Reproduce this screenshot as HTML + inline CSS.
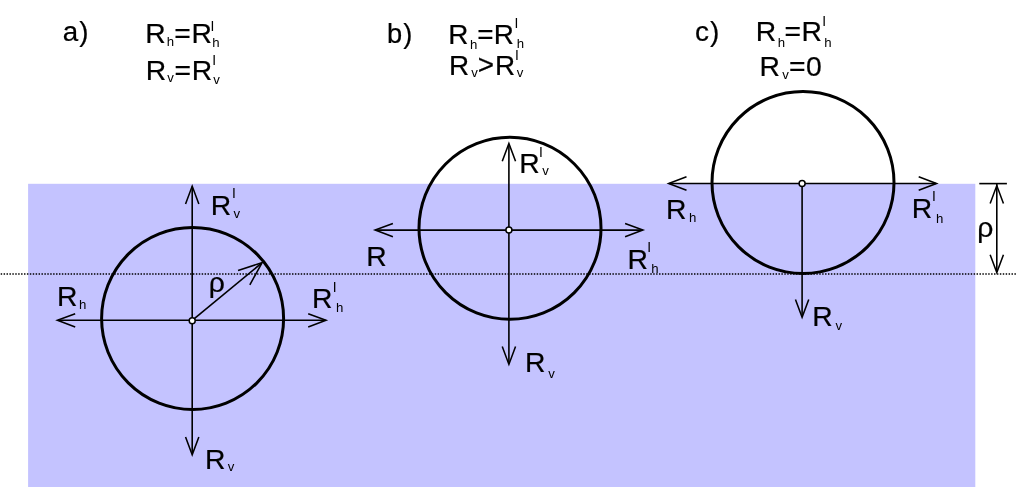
<!DOCTYPE html>
<html lang="en">
<head>
<meta charset="utf-8">
<title>Reactions on a floating cylinder</title>
<style>
html,body{margin:0;padding:0;background:#fff;}
body{width:1024px;height:502px;overflow:hidden;}
svg{display:block;will-change:transform;}
svg text{font-family:"Liberation Sans",sans-serif;fill:#000000;}
svg .m{stroke:#000000;stroke-width:0.22px;}
</style>
</head>
<body>
<svg width="1024" height="502" viewBox="0 0 1024 502">
<rect x="0" y="0" width="1024" height="502" fill="#ffffff"/>
<rect x="28.1" y="183.8" width="947.2" height="303.2" fill="#c4c3ff"/>
<line x1="0.7" y1="273.9" x2="1016" y2="273.9" stroke="#000000" stroke-width="1.45" stroke-dasharray="1.456 1.457"/>
<circle cx="192.6" cy="318.5" r="91" fill="none" stroke="#000000" stroke-width="3"/>
<circle cx="510.0" cy="228.3" r="91" fill="none" stroke="#000000" stroke-width="3"/>
<circle cx="803.0" cy="182.5" r="91" fill="none" stroke="#000000" stroke-width="3"/>
<line x1="192.2" y1="186.5" x2="192.2" y2="454" stroke="#000000" stroke-width="1.6"/>
<path d="M198.85,203.9 L192.2,186.1 L185.55,203.9" fill="none" stroke="#000000" stroke-width="1.55" stroke-linejoin="miter" stroke-miterlimit="10" stroke-linecap="butt"/>
<path d="M185.55,436.9 L192.2,454.7 L198.85,436.9" fill="none" stroke="#000000" stroke-width="1.55" stroke-linejoin="miter" stroke-miterlimit="10" stroke-linecap="butt"/>
<line x1="58" y1="320.3" x2="325.5" y2="320.3" stroke="#000000" stroke-width="1.6"/>
<path d="M75.2,313.65 L57.4,320.3 L75.2,326.95" fill="none" stroke="#000000" stroke-width="1.55" stroke-linejoin="miter" stroke-miterlimit="10" stroke-linecap="butt"/>
<path d="M308.2,326.95 L326,320.3 L308.2,313.65" fill="none" stroke="#000000" stroke-width="1.55" stroke-linejoin="miter" stroke-miterlimit="10" stroke-linecap="butt"/>
<line x1="192.2" y1="320.3" x2="261.6" y2="263.1" stroke="#000000" stroke-width="1.6"/>
<path d="M249.83,284.79 L262.14,262.68 L238.06,270.46" fill="none" stroke="#000000" stroke-width="1.55" stroke-linejoin="miter" stroke-miterlimit="10" stroke-linecap="butt"/>
<circle cx="192.2" cy="320.7" r="3" fill="#fff" stroke="#000000" stroke-width="1.5"/>
<line x1="508.9" y1="144" x2="508.9" y2="363.7" stroke="#000000" stroke-width="1.6"/>
<path d="M515.55,161.2 L508.9,143.4 L502.25,161.2" fill="none" stroke="#000000" stroke-width="1.55" stroke-linejoin="miter" stroke-miterlimit="10" stroke-linecap="butt"/>
<path d="M502.25,346.6 L508.9,364.4 L515.55,346.6" fill="none" stroke="#000000" stroke-width="1.55" stroke-linejoin="miter" stroke-miterlimit="10" stroke-linecap="butt"/>
<line x1="375.8" y1="230.1" x2="642.3" y2="230.1" stroke="#000000" stroke-width="1.6"/>
<path d="M392.9,223.45 L375.1,230.1 L392.9,236.75" fill="none" stroke="#000000" stroke-width="1.55" stroke-linejoin="miter" stroke-miterlimit="10" stroke-linecap="butt"/>
<path d="M625.1,236.75 L642.9,230.1 L625.1,223.45" fill="none" stroke="#000000" stroke-width="1.55" stroke-linejoin="miter" stroke-miterlimit="10" stroke-linecap="butt"/>
<circle cx="508.9" cy="230.1" r="3" fill="#fff" stroke="#000000" stroke-width="1.5"/>
<line x1="802.1" y1="183.5" x2="802.1" y2="316.5" stroke="#000000" stroke-width="1.6"/>
<path d="M795.45,299.4 L802.1,317.2 L808.75,299.4" fill="none" stroke="#000000" stroke-width="1.55" stroke-linejoin="miter" stroke-miterlimit="10" stroke-linecap="butt"/>
<line x1="669.3" y1="183.5" x2="936" y2="183.5" stroke="#000000" stroke-width="1.6"/>
<path d="M686.5,176.85 L668.7,183.5 L686.5,190.15" fill="none" stroke="#000000" stroke-width="1.55" stroke-linejoin="miter" stroke-miterlimit="10" stroke-linecap="butt"/>
<path d="M918.7,190.15 L936.5,183.5 L918.7,176.85" fill="none" stroke="#000000" stroke-width="1.55" stroke-linejoin="miter" stroke-miterlimit="10" stroke-linecap="butt"/>
<circle cx="802.1" cy="183.5" r="3" fill="#fff" stroke="#000000" stroke-width="1.5"/>
<line x1="979.3" y1="183.6" x2="1006.9" y2="183.6" stroke="#000000" stroke-width="1.6"/>
<line x1="996.8" y1="184" x2="996.8" y2="272" stroke="#000000" stroke-width="1.6"/>
<path d="M1003.45,203.4 L996.8,185.6 L990.15,203.4" fill="none" stroke="#000000" stroke-width="1.55" stroke-linejoin="miter" stroke-miterlimit="10" stroke-linecap="butt"/>
<path d="M990.15,254.7 L996.8,272.5 L1003.45,254.7" fill="none" stroke="#000000" stroke-width="1.55" stroke-linejoin="miter" stroke-miterlimit="10" stroke-linecap="butt"/>
<text><tspan class="m" x="62.82" y="41.4" font-size="27.7">a</tspan><tspan class="m" x="79.3" y="41.4" font-size="27.7">)</tspan></text>
<text><tspan class="m" x="386.99" y="43.3" font-size="27.3">b</tspan><tspan class="m" x="403.3" y="43.3" font-size="27.3">)</tspan></text>
<text><tspan class="m" x="695.11" y="40.85" font-size="28">c</tspan><tspan class="m" x="709.9" y="40.85" font-size="28">)</tspan></text>
<text><tspan class="m" x="145.33" y="43.3" font-size="28.3">R</tspan><tspan x="166.79" y="45.7" font-size="13.2">h</tspan><tspan class="m" x="174.17" y="43.3" font-size="28.3">=</tspan><tspan class="m" x="191.43" y="43.3" font-size="28.3">R</tspan><tspan x="210.48" y="30.7" font-size="13.8">I</tspan><tspan x="212.29" y="47.2" font-size="13.2">h</tspan></text>
<text><tspan class="m" x="145.73" y="79.7" font-size="28.3">R</tspan><tspan x="167.2" y="82.1" font-size="13.2">v</tspan><tspan class="m" x="174.57" y="79.7" font-size="28.3">=</tspan><tspan class="m" x="191.83" y="79.7" font-size="28.3">R</tspan><tspan x="212.28" y="64.5" font-size="13.8">I</tspan><tspan x="213.25" y="84.3" font-size="13.2">v</tspan></text>
<text><tspan class="m" x="448.16" y="44.2" font-size="27.9">R</tspan><tspan x="469.89" y="49" font-size="13.2">h</tspan><tspan class="m" x="477.19" y="44.2" font-size="27.9">=</tspan><tspan class="m" x="493.86" y="44.2" font-size="27.9">R</tspan><tspan x="514.38" y="27.6" font-size="13.8">I</tspan><tspan x="516.69" y="47.8" font-size="13.2">h</tspan></text>
<text><tspan class="m" x="448.96" y="74.5" font-size="27.9">R</tspan><tspan x="471.2" y="77.1" font-size="13.2">v</tspan><tspan class="m" x="477.87" y="74.3" font-size="27.9">&gt;</tspan><tspan class="m" x="495.06" y="74.5" font-size="27.9">R</tspan><tspan x="514.98" y="59.8" font-size="13.8">I</tspan><tspan x="516.8" y="77.3" font-size="13.2">v</tspan></text>
<text><tspan class="m" x="755.73" y="41" font-size="28.3">R</tspan><tspan x="777.69" y="46.5" font-size="13.2">h</tspan><tspan class="m" x="784.57" y="41" font-size="28.3">=</tspan><tspan class="m" x="801.43" y="41" font-size="28.3">R</tspan><tspan x="822.18" y="25.8" font-size="13.8">I</tspan><tspan x="824.19" y="47.3" font-size="13.2">h</tspan></text>
<text><tspan class="m" x="759.43" y="75.6" font-size="28.3">R</tspan><tspan x="782.3" y="79.3" font-size="13.2">v</tspan><tspan class="m" x="788.97" y="75.6" font-size="28.3">=</tspan><tspan class="m" x="805.94" y="75.8" font-size="28.3">0</tspan></text>
<text><tspan class="m" x="210.63" y="214.5" font-size="28.3">R</tspan><tspan x="231.98" y="197.6" font-size="13.8">I</tspan><tspan x="233.5" y="217.8" font-size="13.2">v</tspan></text>
<text><tspan class="m" x="56.93" y="305.7" font-size="28.3">R</tspan><tspan x="79.09" y="308.6" font-size="13.2">h</tspan></text>
<text><tspan class="m" x="311.93" y="308.4" font-size="28.3">R</tspan><tspan x="332.68" y="291.9" font-size="13.8">I</tspan><tspan x="335.89" y="311.8" font-size="13.2">h</tspan></text>
<text><tspan class="m" x="204.93" y="468.6" font-size="28.3">R</tspan><tspan x="227.8" y="470.8" font-size="13.2">v</tspan></text>
<text><tspan class="m" x="208.67" y="292" font-size="28.3">ρ</tspan></text>
<text><tspan class="m" x="519.23" y="173.3" font-size="28.3">R</tspan><tspan x="539.08" y="156.5" font-size="13.8">I</tspan><tspan x="542.25" y="175.4" font-size="13.2">v</tspan></text>
<text><tspan class="m" x="366.33" y="266" font-size="28.3">R</tspan></text>
<text><tspan class="m" x="627.43" y="268.8" font-size="28.3">R</tspan><tspan x="647.13" y="251.9" font-size="13.8">I</tspan><tspan x="651.29" y="272.5" font-size="13.2">h</tspan></text>
<text><tspan class="m" x="524.93" y="371.7" font-size="28.3">R</tspan><tspan x="548.3" y="377.5" font-size="13.2">v</tspan></text>
<text><tspan class="m" x="666.03" y="219" font-size="28.3">R</tspan><tspan x="689.09" y="221.6" font-size="13.2">h</tspan></text>
<text><tspan class="m" x="911.83" y="217.7" font-size="28.3">R</tspan><tspan x="931.88" y="201" font-size="13.8">I</tspan><tspan x="935.99" y="222.7" font-size="13.2">h</tspan></text>
<text><tspan class="m" x="812.33" y="326.3" font-size="28.3">R</tspan><tspan x="835.4" y="330.15" font-size="13.2">v</tspan></text>
<text><tspan class="m" x="977.27" y="237.1" font-size="28.3">ρ</tspan></text>
</svg>
</body>
</html>
